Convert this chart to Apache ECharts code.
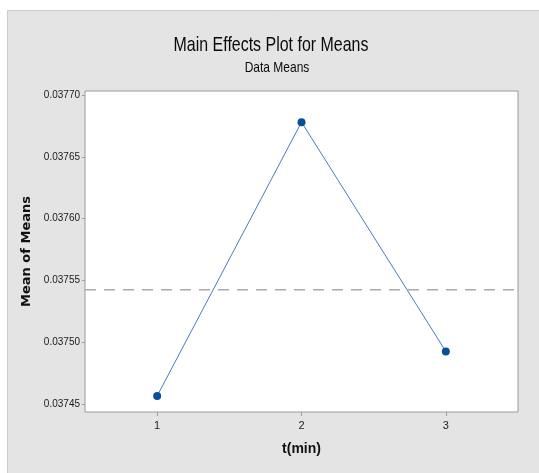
<!DOCTYPE html>
<html>
<head>
<meta charset="utf-8">
<script src="https://cdn.jsdelivr.net/npm/echarts@6/dist/echarts.min.js"></script>
<style>
  html, body { margin: 0; padding: 0; background: #ffffff; }
  #chart { width: 539px; height: 473px; }
</style>
</head>
<body>
<div id="chart"></div>
<script>
// Factor levels of t(min) and the mean response at each level
const levels = ['1', '2', '3'];
const means = [0.0374565, 0.0376780, 0.0374925];

// Tick values shown on the y axis
const yTicks = [0.03745, 0.03750, 0.03755, 0.03760, 0.03765, 0.03770];
const yMin = 0.0374435;
const yMax = 0.0377032;

// Overall mean, drawn as a dashed reference line across the plot
const grandMean = means.reduce((a, b) => a + b, 0) / means.length;
const refLine = [[0.5, grandMean], [3.5, grandMean]];

const sans = "'Liberation Sans', Arial, sans-serif";

const chart = echarts.init(document.getElementById('chart'), null, { renderer: 'canvas' });

chart.setOption({
  backgroundColor: '#ffffff',
  animation: false,
  graphic: [{
    type: 'rect',
    z: -10,
    shape: { x: 7.5, y: 10.5, width: 540, height: 470 },
    style: { fill: '#e4e4e4', stroke: '#cccccc', lineWidth: 1 }
  }, {
    type: 'text',
    x: 271,
    y: 45,
    scaleX: 0.76,
    style: {
      text: 'Main Effects Plot for Means',
      font: "normal 21px 'Liberation Sans', Arial, sans-serif",
      fill: '#0a0a0a',
      textAlign: 'center',
      textVerticalAlign: 'middle'
    }
  }, {
    type: 'text',
    x: 277,
    y: 68,
    scaleX: 0.8,
    style: {
      text: 'Data Means',
      font: "normal 15px 'Liberation Sans', Arial, sans-serif",
      fill: '#0a0a0a',
      textAlign: 'center',
      textVerticalAlign: 'middle'
    }
  }],
  grid: {
    left: 85,
    right: 21,
    top: 91,
    bottom: 61,
    show: true,
    backgroundColor: '#ffffff',
    borderColor: '#9a9a9a',
    borderWidth: 1
  },
  xAxis: [{
    type: 'category',
    data: levels,
    boundaryGap: true,
    name: 't(min)',
    nameLocation: 'middle',
    nameGap: 30,
    nameTextStyle: { fontFamily: sans, fontSize: 14, fontWeight: 'bold', color: '#111111' },
    axisLine: { show: false },
    axisTick: { show: true, alignWithLabel: true, length: 4, lineStyle: { color: '#9a9a9a' } },
    axisLabel: { margin: 8, fontFamily: sans, fontSize: 11, color: '#222222' },
    splitLine: { show: false }
  }, {
    // companion value axis spanning the same width, used by the reference line
    type: 'value',
    min: 0.5,
    max: 3.5,
    show: false
  }],
  yAxis: {
    type: 'value',
    min: yMin,
    max: yMax,
    name: 'Mean of Means',
    nameLocation: 'middle',
    nameGap: 38,
    nameTextStyle: { fontFamily: "'DejaVu Sans', sans-serif", fontSize: 13, fontWeight: 'bold', color: '#111111' },
    axisLine: { show: false },
    axisTick: { show: true, length: 3, customValues: yTicks, lineStyle: { color: '#9a9a9a' } },
    axisLabel: {
      margin: 5,
      customValues: yTicks,
      fontFamily: sans,
      fontSize: 10,
      color: '#1a1a1a',
      formatter: v => v.toFixed(5)
    },
    splitLine: { show: false }
  },
  series: [{
    type: 'line',
    xAxisIndex: 1,
    data: refLine,
    symbol: 'none',
    silent: true,
    z: 1,
    lineStyle: { color: '#aaaaaa', type: [11, 8], width: 1.5 }
  }, {
    type: 'line',
    xAxisIndex: 0,
    data: means,
    symbol: 'circle',
    symbolSize: 8,
    z: 3,
    lineStyle: { color: '#4a7cc2', width: 1 },
    itemStyle: { color: '#0a4f9e' }
  }]
});
</script>
</body>
</html>
